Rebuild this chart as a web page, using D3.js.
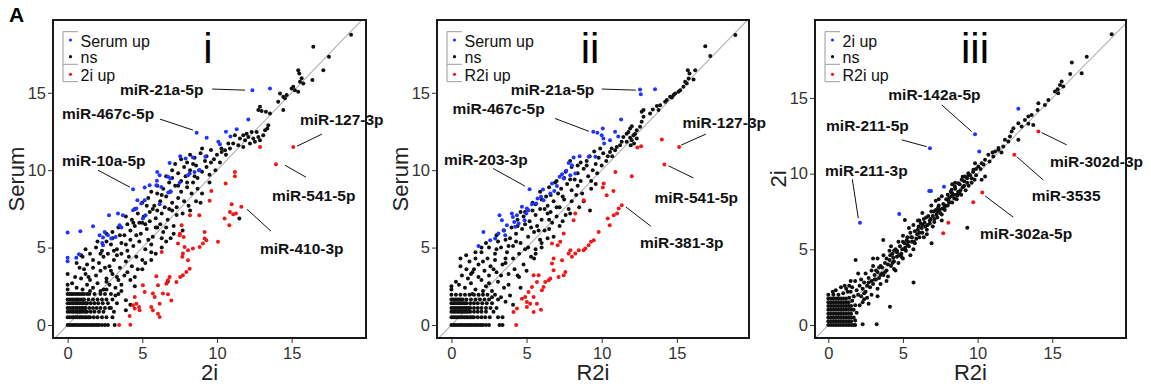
<!DOCTYPE html>
<html>
<head>
<meta charset="utf-8">
<script src="https://cdn.jsdelivr.net/npm/d3@7"></script>
<style>
  body { margin: 0; background: #fff; }
  svg { display: block; font-family: "Liberation Sans", Arial, sans-serif; }
</style>
</head>
<body>
<svg id="chart" width="1151" height="388"></svg>
<script>
// ---- data (log2 expression) ----
const ticks = [0, 5, 10, 15];

// panel i : 2i (x) vs Serum (y)
const upI = [[12.37,15.17],[13.55,15.28],[8.64,12.41],[9.31,12.09],[10.09,11.83],[10.2,11.68],[10.6,12.48],[10.9,12.17],[11.32,12.65],[12.1,13.27],
  [7.54,10.9],[7.9,10.75],[8.39,10.82],[9.22,10.86],[6.83,10.47],[6.0,9.89],[6.16,9.68],[6.72,9.57],[6.88,9.46],[5.98,9.31],[7.5,9.18],[8.17,9.78],[8.5,9.89],[8.84,10.0],[8.06,9.68],
  [4.38,8.77],[5.16,8.88],[5.49,9.03],[5.94,9.03],[6.27,8.92],[6.74,8.56],[6.88,8.64],[4.67,8.06],[5.16,8.06],[4.93,7.84],[4.38,7.41],[4.6,7.52],[6.16,7.8],
  [2.77,7.09],[3.37,7.2],[3.7,7.09],[5.04,6.88],[5.22,7.09],[1.7,6.38],[0.85,6.06],[0,5.97],[3.48,6.44],[2.14,5.8],[2.37,5.65],[2.7,5.8],[2.92,5.58],[3.21,5.69],
  [2.37,5.15],[2.32,5.3],[0,4.35],[0,4.12],[0.58,4.35],[0.76,4.57],[3.6,6.29],[2.48,6.0]];
const dnI = [[15.11,11.5],[12.88,11.5],[13.95,10.39],[11.2,9.89],[11.2,9.61],[10.98,7.8],[10.87,7.3],[11.09,7.15],[11.27,7.2],[10.83,6.45],
  [10.58,9.14],[9.62,8.66],[9.51,8.02],[11.63,7.63],[10.51,6.88],[9.17,6.01],[10.07,5.37],[9.29,5.47],[9.17,5.58],[9.06,5.26],[8.84,5.04],[8.39,4.94],[8.06,4.83],
  [7.83,5.04],[7.72,4.61],[7.68,4.4],[7.77,5.69],[7.5,5.8],[7.39,5.26],[8.06,4.18],[8.17,3.64],[7.95,3.43],[7.72,3.21],[7.54,3.1],[7.28,2.78],[6.83,3.1],[6.72,2.89],
  [6.61,2.67],[5.94,3.15],[6.05,2.56],[5.71,2.03],[5.83,1.81],[6.16,1.38],[6.38,2.03],[6.72,1.98],[6.94,1.59],[5.04,2.56],[5.16,2.13],[4.6,1.38],[4.38,1.27],[4.49,1.06],
  [4.78,1.16],[4.82,0.95],[5.6,1.16],[5.71,0.95],[6.05,0.73],[6.16,0.52],[4.15,0.58],[3.45,0],[4.2,0.02],[4.49,1.81],[8.19,7.09],[8.82,7.09],[7.63,6.44],[7.52,5.9],[6.3,4.72]];
const nsI = [[0,0],[0.15,0],[0.3,0],[0.45,0],[0.6,0],[0.75,0],[0.9,0],[1.05,0],[1.2,0],[1.35,0],[1.5,0],[1.65,0],[1.8,0],[1.95,0],[2.1,0],[2.3,0],[2.5,0],[2.7,0],[3.15,0],
  [0,0.5],[0,0.85],[0,1.1],[0,1.4],[0,1.65],[0,2.0],[0,2.3],[0,2.6],[0,3.3],
  [0.3,0.5],[0.55,0.5],[0.8,0.5],[1.0,0.5],[1.25,0.5],[1.5,0.5],[1.75,0.5],[2.0,0.5],[2.3,0.5],[2.6,0.5],[3.0,0.5],
  [0.15,0.5],[0.4,0.5],[0.65,0.5],[0.9,0.5],[1.15,0.5],[1.4,0.5],
  [0.3,0.85],[0.55,0.85],[0.8,0.85],[1.05,0.85],[1.3,0.85],[1.55,0.85],[1.8,0.85],[2.1,0.85],[2.4,0.85],[3.1,0.85],[3.9,0.95],
  [0.15,0.85],[0.4,0.85],[0.65,0.85],[0.9,0.85],[1.2,0.85],
  [0.3,1.1],[0.55,1.1],[0.8,1.1],[1.0,1.1],[1.2,1.1],[1.45,1.1],[1.7,1.1],[1.95,1.1],[2.2,1.1],[2.5,1.1],[2.8,1.1],
  [0.15,1.1],[0.4,1.1],[0.65,1.1],[0.9,1.1],[1.1,1.1],
  [0.3,1.4],[0.55,1.4],[0.8,1.4],[1.05,1.4],[1.3,1.4],[1.55,1.4],[1.8,1.4],[2.05,1.4],[2.35,1.4],[2.7,1.4],[3.3,1.4],
  [0.15,1.4],[0.4,1.4],[0.65,1.4],[0.95,1.4],[1.2,1.4],
  [0.3,1.65],[0.6,1.65],[0.85,1.65],[1.1,1.65],[1.4,1.65],[1.7,1.65],[2.0,1.65],[2.3,1.65],[2.6,1.65],[3.0,1.65],
  [0.15,1.65],[0.45,1.65],[0.7,1.65],[1.0,1.65],
  [0.25,2.0],[0.5,2.0],[0.8,2.0],[1.1,2.0],[1.45,2.0],[1.8,2.0],[2.2,2.0],[2.5,2.0],[2.9,2.0],[3.4,2.0],
  [0.15,2.0],[0.35,2.0],[0.65,2.0],[0.95,2.0],[1.3,2.0],
  [0.6,2.4],[1.0,2.3],[1.3,2.6],[1.7,2.4],[2.0,2.7],[2.4,2.3],[2.8,2.6],[3.2,2.4],[3.6,2.2],[3.9,1.6],[4.2,1.3],
  [0.5,3.1],[0.9,3.0],[1.2,3.3],[1.5,2.9],[1.9,3.2],[2.2,3.5],[2.6,3.0],[3.0,3.3],[3.4,2.9],[3.8,3.2],[4.2,2.9],[1.1,3.6],[2.5,3.7],
  [0.6,4.0],[1.0,4.4],[1.3,3.9],[1.7,4.2],[2.1,4.0],[2.4,4.4],[2.8,3.8],[3.1,4.2],[3.5,3.7],[3.9,4.1],[4.3,3.8],[4.6,4.4],[1.5,4.6],[2.7,4.6],[3.3,4.5],[0.9,4.5],
  [1.9,5.0],[2.3,4.8],[2.9,5.2],[3.3,4.9],[3.6,5.3],[4.0,4.8],[4.4,5.1],[4.8,5.4],[5.2,4.9],[5.6,5.2],[3.0,5.6],[4.2,5.5],[2.6,5.4],
  [3.0,6.0],[3.4,6.3],[3.8,5.8],[4.2,6.1],[4.5,6.4],[4.9,5.9],[5.3,6.2],[5.7,5.7],[6.0,6.3],[6.4,6.0],[4.0,6.5],[5.0,6.6],[2.6,5.9],[5.5,6.7],
  [3.9,7.0],[4.3,6.8],[4.7,7.2],[5.1,7.0],[5.5,7.3],[5.9,6.9],[6.3,7.2],[6.7,6.8],[7.0,7.4],[6.2,6.5],[4.8,6.6],[7.3,7.1],[5.7,7.5],
  [5.0,7.9],[5.4,8.2],[5.8,7.7],[6.2,8.0],[6.6,8.3],[7.0,7.9],[7.4,8.2],[7.8,8.0],[6.0,8.5],[6.9,8.6],[7.3,7.6],[8.1,7.7],
  [6.0,9.0],[6.4,8.8],[6.8,9.2],[7.2,9.0],[7.6,9.3],[8.0,8.9],[8.4,9.2],[8.7,8.8],[7.0,9.5],[7.9,9.6],[8.3,8.5],
  [7.0,10.0],[7.4,9.8],[7.8,10.2],[8.2,10.0],[8.6,10.3],[9.0,9.9],[9.3,10.2],[8.5,9.6],[9.6,10.5],[8.0,10.5],[7.2,10.4],
  [8.5,10.8],[8.9,11.1],[9.3,10.9],[9.6,11.3],[10.0,11.0],[9.0,11.4],[10.3,11.4],[9.8,10.7],[8.2,11.0],
  [7.7,6.1],[8.2,7.4],[6.9,5.6],[6.3,5.0],[5.6,4.2],[5.0,3.6],[4.5,3.1],[6.7,2.8],[11.5,6.88],
  [1.5,2.2],[2.2,2.2],[2.6,2.8],[3.3,3.1],[1.7,3.7],[2.9,3.5],[3.6,4.6],[4.1,4.4],[2.2,4.6],[3.1,4.8],[3.9,5.2],[4.6,5.8],[5.4,5.5],[3.5,5.8],
  [4.4,6.6],[5.2,6.5],[5.9,6.3],[6.6,6.3],[4.5,7.5],[5.3,7.7],[6.0,7.4],[6.5,7.6],[6.8,7.5],[5.6,8.6],[6.3,8.4],[7.6,8.6],[6.6,9.6],[7.4,9.0],
  [8.7,9.5],[8.0,9.2],[7.6,10.7],[8.4,10.4],[9.2,10.6],[8.8,10.0],[9.5,9.7],[7.1,6.4],[6.6,5.4],[5.6,4.7],[5.0,4.2],[4.7,3.6],[4.0,3.4],[3.6,2.6],
  [3.2,1.9],[2.9,1.1],[2.6,2.3],[4.5,2.5],[5.2,4.0],[5.9,4.6],[6.3,5.6],[7.1,5.9],[8.6,8.0],[7.7,7.2],[9.0,8.5],[9.5,9.2],[9.9,10.0],[10.2,10.5],
  [8.9,7.9],[10.6,11.0],[1.4,3.1],[0.8,3.7],[0.3,2.7],[2.0,5.4],[1.2,4.9],
  [10.76,11.72],[10.87,11.4],[10.54,11.29],[10.31,11.18],[11.09,11.72],[11.43,11.61],[11.76,11.5],[11.2,12.25],[11.54,12.04],[11.88,11.94],
  [12.21,11.72],[12.54,11.83],[12.88,11.94],[12.77,12.15],[12.43,12.04],[12.1,12.15],[11.76,12.25],[11.99,12.36],[12.32,12.47],[12.66,12.47],
  [13.1,12.25],[13.22,12.58],[13.37,12.69],[13.44,12.9],[13.55,13.66],[13.28,13.77],[12.77,13.88],[12.99,13.83],[12.88,14.09],[14.44,13.88],
  [14.1,14.42],[14.55,14.64],[14.67,14.85],[14.44,14.74],[14.22,14.96],[15.0,15.28],[15.44,15.06],[15.22,15.17],[15.11,15.39],[15.78,15.6],
  [15.56,15.71],[15.67,15.93],[15.51,16.25],[15.44,16.46],[16.39,15.82],[17.12,16.46],[17.5,17.33],[16.45,17.97],[18.98,18.75]];

// panel ii : R2i (x) vs Serum (y)
const upII = [[12.55,15.21],[12.6,14.91],[13.55,15.22],[11.29,13.28],[9.44,12.48],[9.71,12.41],[10.07,12.69],[10.0,12.26],[10.11,12.04],[10.16,11.72],[10.89,12.48],[11.1,12.17],[10.55,11.94],
  [8.13,10.82],[8.53,10.9],[9.13,10.86],[9.58,10.86],[7.8,10.47],[8.02,10.32],[7.64,9.96],[7.36,9.74],[7.2,9.57],[7.47,9.46],[7.91,9.68],[8.24,9.78],[6.69,9.14],[7.02,8.97],
  [6.58,8.49],[6.84,8.66],[6.09,8.75],[5.96,8.28],[6.13,8.06],[5.73,8.17],[5.64,7.84],[5.36,7.8],[5.13,7.41],[4.98,7.2],[5.2,8.77],[4.36,7.09],[4.18,6.66],[4.47,6.55],
  [4.02,7.2],[4.09,6.98],[4.24,6.34],[3.2,7.09],[3.36,6.77],[3.47,6.12],[3.13,5.91],[3.58,5.8],[2.91,5.58],[2.58,5.47],[2.13,6.01],[1.8,5.11],[3.69,6.44],[4.69,7.63],[4.87,6.77],[5.02,7.52]];
const dnII = [[14.0,11.98],[15.15,11.5],[14.17,10.37],[12.37,11.47],[12.62,11.55],[12.0,9.61],[10.78,8.66],[10.33,8.38],[11.33,7.74],
  [10.91,9.89],[10.13,9.14],[10.07,8.88],[8.8,8.06],[8.24,7.2],[8.13,6.77],[11.13,7.52],[11.02,7.2],[10.8,7.09],[10.4,6.88],[10.53,6.44],[9.8,6.01],[9.47,5.47],[9.29,5.37],
  [9.13,5.15],[8.91,4.94],[8.8,4.83],[8.47,4.83],[8.24,4.61],[8.02,4.4],[7.91,4.83],[7.8,4.61],[7.47,5.91],[7.24,5.37],[7.07,5.15],[6.69,5.26],[7.36,4.18],[7.58,3.43],
  [7.47,3.21],[7.13,3.1],[6.8,3.53],[6.8,4.29],[6.69,3.97],[6.58,3.0],[6.47,2.89],[6.24,2.78],[6.13,2.46],[6.02,2.24],[5.47,3.21],[5.8,3.21],[5.69,2.78],[5.36,2.46],
  [5.13,2.13],[4.91,1.81],[4.69,1.7],[5.47,1.81],[5.69,1.38],[5.24,1.38],[5.02,1.16],[5.02,1.49],[4.36,1.06],[4.13,0.84],[4.31,0],[5.47,0.84],[5.96,0.99]];
const nsII = [[0,0],[0.15,0],[0.3,0],[0.45,0],[0.6,0],[0.75,0],[0.9,0],[1.05,0],[1.2,0],[1.35,0],[1.5,0],[1.65,0],[1.8,0],[1.95,0],[2.1,0],[2.3,0],[2.5,0],[3.2,0],[3.4,0],
  [0,0.5],[0,0.85],[0,1.1],[0,1.4],[0,1.65],[0,1.95],[0,2.3],[0,2.5],
  [0.25,0.5],[0.5,0.5],[0.75,0.5],[1.0,0.5],[1.25,0.5],[1.5,0.5],[1.75,0.5],[2.0,0.5],[2.25,0.5],[2.55,0.5],[3.1,0.5],[3.4,0.5],
  [0.12,0.5],[0.38,0.5],[0.62,0.5],[0.88,0.5],[1.12,0.5],[1.38,0.5],
  [0.25,0.85],[0.5,0.85],[0.75,0.85],[1.0,0.85],[1.25,0.85],[1.5,0.85],[1.75,0.85],[2.0,0.85],[2.3,0.85],[2.8,0.85],
  [0.12,0.85],[0.38,0.85],[0.62,0.85],[0.88,0.85],[1.12,0.85],
  [0.25,1.1],[0.5,1.1],[0.75,1.1],[1.0,1.1],[1.25,1.1],[1.5,1.1],[1.75,1.1],[2.0,1.1],[2.3,1.1],[2.6,1.1],
  [0.12,1.1],[0.38,1.1],[0.62,1.1],[0.88,1.1],[1.12,1.1],
  [0.25,1.4],[0.5,1.4],[0.75,1.4],[1.0,1.4],[1.25,1.4],[1.5,1.4],[1.75,1.4],[2.05,1.4],[2.35,1.4],[2.7,1.4],
  [0.12,1.4],[0.38,1.4],[0.62,1.4],[0.88,1.4],
  [0.25,1.65],[0.5,1.65],[0.75,1.65],[1.0,1.65],[1.3,1.65],[1.6,1.65],[1.9,1.65],[2.2,1.65],[2.5,1.65],[3.1,1.65],
  [0.12,1.65],[0.38,1.65],[0.62,1.65],
  [0.3,1.95],[0.6,1.95],[0.9,1.95],[1.2,1.95],[1.5,1.95],[1.8,1.95],[2.1,1.95],[2.4,1.95],[2.9,1.95],
  [0.5,2.6],[0.9,2.4],[1.3,2.7],[1.6,2.3],[2.0,2.9],[2.3,2.5],[2.7,2.2],[3.1,2.8],[3.5,2.4],[3.9,1.9],[4.1,1.3],[3.6,1.5],[1.1,3.0],[1.8,3.1],[2.5,3.2],[0.7,3.2],
  [1.0,3.6],[1.4,3.4],[1.8,3.9],[2.2,3.5],[2.6,3.8],[3.0,3.4],[3.4,3.9],[3.8,3.3],[4.2,3.6],[4.5,3.1],[2.9,4.2],[1.6,4.3],[0.98,4.5],[1.2,4.1],[2.4,4.3],[3.6,4.3],[4.8,3.9],
  [2.0,4.7],[2.5,5.0],[2.9,4.6],[3.3,5.0],[3.7,4.7],[4.1,5.1],[4.5,4.6],[4.9,4.9],[5.3,4.4],[3.1,5.4],[4.3,5.4],[5.6,4.9],[2.3,5.3],
  [3.0,5.8],[3.5,6.1],[3.9,5.6],[4.3,5.9],[4.7,6.2],[5.1,5.7],[5.5,6.0],[5.9,5.5],[6.2,6.1],[4.0,6.3],[4.9,6.5],[5.7,6.4],[6.4,5.6],
  [4.4,6.8],[4.8,7.0],[5.2,6.7],[5.6,7.1],[6.0,6.8],[6.4,7.2],[6.7,6.6],[7.0,7.0],[5.4,7.4],[6.2,7.5],[7.2,6.4],[4.6,7.3],
  [5.6,7.8],[6.0,8.1],[6.4,7.7],[6.8,8.0],[7.2,7.6],[7.5,8.1],[7.8,7.5],[6.6,8.4],[7.1,8.5],[8.0,8.0],
  [6.5,8.9],[6.9,9.2],[7.3,8.8],[7.7,9.1],[8.0,8.7],[8.4,9.0],[8.7,8.5],[7.5,9.5],[8.2,9.4],[9.22,7.4],
  [7.6,9.9],[8.0,10.2],[8.4,9.8],[8.8,10.1],[9.1,9.6],[9.4,10.0],[8.6,10.5],[9.0,10.6],[9.6,10.4],
  [9.2,10.9],[9.5,11.2],[9.8,10.8],[10.1,11.1],[10.3,10.6],[9.9,11.4],
  [1.4,2.0],[2.1,2.2],[2.5,2.7],[3.3,3.2],[1.5,3.6],[2.8,3.6],[3.6,4.0],[4.1,4.3],[2.1,4.1],[3.0,4.9],[3.8,5.1],[4.6,5.3],[5.1,5.0],[3.6,5.5],
  [4.4,6.4],[5.3,6.3],[5.8,6.1],[6.5,6.2],[4.9,7.3],[5.4,7.9],[5.9,7.5],[6.6,7.3],[7.0,7.6],[5.9,8.6],[6.3,8.3],[7.4,8.3],[7.0,9.3],[7.9,9.4],
  [8.6,9.3],[8.3,8.4],[7.9,10.6],[8.4,10.3],[9.0,10.3],[9.3,9.3],[9.7,9.8],[7.4,6.7],[6.8,5.7],[6.0,5.0],[5.5,4.3],[5.0,3.5],[4.4,3.2],[3.8,2.6],
  [3.3,1.8],[3.0,1.1],[2.7,1.8],[4.6,2.4],[5.6,4.6],[6.0,5.3],[6.5,6.8],[7.6,7.1],[8.5,7.6],[7.9,7.2],[9.3,8.8],[9.6,9.1],[10.0,10.3],[10.4,10.9],
  [8.8,8.0],[10.7,10.9],[1.3,3.3],[0.6,3.8],[0.3,2.8],[2.0,5.0],[1.6,4.7],[0.6,4.3],
  [10.55,11.18],[10.66,11.4],[10.89,11.29],[11.0,11.5],[11.22,11.61],[11.33,11.83],[11.93,11.61],[12.15,11.72],[12.33,12.04],[11.66,11.83],
  [11.44,12.15],[11.66,12.36],[11.89,12.1],[12.0,11.94],[12.11,12.25],[11.78,12.47],[11.89,12.69],[12.0,12.84],[12.22,12.36],[12.33,12.58],
  [12.55,12.8],[12.66,13.12],[12.78,13.45],[12.66,13.77],[12.78,13.88],[13.22,13.66],[13.4,13.92],[13.78,13.88],[13.67,14.14],[13.89,14.2],
  [14.22,14.42],[14.33,14.53],[14.55,14.74],[14.67,14.7],[14.78,14.85],[14.89,14.96],[15.11,15.06],[15.22,15.17],[15.44,15.39],[15.66,15.6],
  [15.55,15.71],[15.78,15.92],[16.11,15.86],[16.22,16.46],[15.84,16.25],[15.73,16.46],[17.22,17.37],[16.89,18.01],[18.89,18.73]];

// panel iii : R2i (x) vs 2i (y)
const upIII = [[2.12,6.76],[4.75,7.33],[6.76,8.85],[6.88,8.85],[7.75,9.14],[10.11,11.46],[9.83,12.6],[6.81,11.68],[12.73,14.28]];
const dnIII = [[12.46,11.24],[14.07,12.78],[10.31,8.75],[9.71,8.11],[8.04,6.76],[7.7,6.06]];
const nsIII = [[0,0],[0.17,0],[0.34,0],[0.51,0],[0.68,0],[0.85,0],[1.02,0],[1.19,0],[1.36,0],[1.53,0],[1.7,0],[1.8,0],[2.3,0.05],[3.24,0.05],
  [0,0.25],[0.17,0.25],[0.34,0.25],[0.51,0.25],[0.68,0.25],[0.85,0.25],[1.02,0.25],[1.19,0.25],[1.36,0.25],[1.53,0.25],[1.8,0.3],
  [0,0.5],[0.17,0.5],[0.34,0.5],[0.51,0.5],[0.68,0.5],[0.85,0.5],[1.02,0.5],[1.19,0.5],[1.36,0.5],[1.53,0.5],[1.7,0.5],
  [0,0.75],[0.17,0.75],[0.34,0.75],[0.51,0.75],[0.68,0.75],[0.85,0.75],[1.02,0.75],[1.19,0.75],[1.36,0.75],[1.53,0.75],[1.9,0.8],
  [0,1.0],[0.17,1.0],[0.34,1.0],[0.51,1.0],[0.68,1.0],[0.85,1.0],[1.02,1.0],[1.19,1.0],[1.36,1.0],[1.53,1.0],[1.7,1.0],
  [0,1.25],[0.17,1.25],[0.34,1.25],[0.51,1.25],[0.68,1.25],[0.85,1.25],[1.02,1.25],[1.19,1.25],[1.36,1.25],[1.53,1.25],[1.8,1.3],
  [0,1.5],[0.17,1.5],[0.34,1.5],[0.51,1.5],[0.68,1.5],[0.85,1.5],[1.02,1.5],[1.19,1.5],[1.36,1.5],[1.6,1.6],
  [0,1.75],[0.17,1.75],[0.34,1.75],[0.51,1.75],[0.68,1.75],[0.85,1.75],[1.02,1.75],[1.19,1.75],[1.4,1.8],
  [0,2.0],[0.34,2.0],[0.68,2.0],[1.0,2.1],[1.3,2.2],[0.5,2.3],[0.85,2.5],
  [1.9,2.3],[2.2,1.9],[2.1,2.6],[2.5,2.2],[2.4,2.8],[2.8,2.5],[2.7,3.1],[3.0,2.7],[1.6,2.5],[1.8,2.9],[2.3,1.5],[2.6,1.8],[3.1,3.3],[2.0,3.4],[1.83,4.3],[1.5,2.2],[2.9,2.0],[3.3,2.4],
  [1.7,1.9],[2.0,2.0],[2.3,2.4],[2.6,2.6],[2.2,3.0],[2.9,2.9],[1.4,2.6],[2.4,1.7],
  [3.2,3.6],[3.4,3.1],[3.5,3.9],[3.6,3.4],[3.8,4.1],[3.9,3.6],[3.3,4.4],[4.0,3.2],[3.7,4.6],[3.0,3.9],[3.68,5.62],[4.13,1.21],[3.9,2.9],
  [3.1,3.0],[3.3,3.5],[3.6,3.8],[3.8,3.5],[3.5,3.3],[3.9,4.4],
  [4.1,4.3],[4.2,3.9],[4.3,4.7],[4.4,4.2],[4.5,5.0],[4.6,4.5],[4.7,4.1],[4.8,5.2],[4.9,4.7],[4.2,5.2],[4.5,3.6],[5.0,4.4],
  [4.15,4.6],[4.35,4.45],[4.6,4.8],[4.75,4.6],[4.95,5.0],[4.4,4.9],
  [5.1,5.4],[5.2,4.9],[5.3,5.8],[5.4,5.2],[5.5,6.1],[5.6,5.5],[5.7,5.0],[5.8,6.2],[5.9,5.7],[5.0,5.9],[5.13,6.94],[5.71,2.8],[5.4,6.4],
  [5.15,5.1],[5.35,5.5],[5.55,5.8],[5.75,5.5],[5.95,6.0],[5.25,5.6],
  [6.0,6.3],[6.1,5.8],[6.2,6.7],[6.3,6.1],[6.4,7.0],[6.5,6.5],[6.6,6.0],[6.7,7.2],[6.8,6.7],[6.9,7.5],[6.92,5.4],[6.3,7.4],[6.1,6.9],
  [6.05,6.5],[6.25,6.4],[6.45,6.75],[6.65,6.6],[6.85,7.0],[6.55,7.1],
  [7.0,7.2],[7.1,6.8],[7.2,7.6],[7.3,7.1],[7.4,7.9],[7.5,7.4],[7.6,6.9],[7.7,8.0],[7.8,7.6],[7.9,8.3],[7.2,8.2],[7.6,8.5],
  [7.05,7.5],[7.25,7.3],[7.45,7.65],[7.65,7.7],[7.85,7.9],[7.35,7.75],
  [8.0,7.9],[8.1,8.4],[8.2,8.8],[8.3,8.1],[8.4,8.6],[8.5,9.0],[8.6,8.3],[8.7,8.8],[8.8,9.3],[8.9,8.6],[8.3,9.3],
  [8.05,8.2],[8.25,8.5],[8.45,8.35],[8.65,8.55],[8.85,8.9],
  [9.0,9.1],[9.1,9.5],[9.2,8.9],[9.3,9.7],[9.4,9.2],[9.5,9.9],[9.6,9.4],[9.7,10.1],[9.8,9.6],[9.9,10.3],[9.31,6.43],[9.0,9.8],
  [2.4,2.1],[2.7,2.8],[3.2,3.0],[3.4,3.8],[3.7,3.3],[4.0,4.0],[4.3,4.1],[4.6,4.9],[4.9,4.5],[5.1,5.0],[5.3,5.3],[5.6,5.8],[5.8,5.4],[6.1,6.1],
  [6.3,6.6],[6.6,6.3],[6.8,6.9],[7.1,7.0],[7.3,7.5],[7.6,7.3],[7.8,7.8],[8.1,8.1],[8.3,8.7],[8.6,8.6],[8.8,8.7],[9.1,9.2],[9.3,9.4],[9.6,9.7],
  [9.9,9.9],[10.2,10.3],[10.4,10.6],[10.8,10.8],[11.0,11.4],[11.4,11.7],[11.6,11.4],[3.5,2.7],[4.4,3.7],[5.5,4.6],[6.4,5.8],[7.0,6.5],[2.9,3.6],
  [4.1,4.9],[5.0,5.5],[6.0,6.9],[7.4,8.3],[8.0,8.6],[1.2,2.4],[1.5,2.9],[2.5,3.4],[3.0,4.4],[4.7,5.5],[5.7,6.6],[6.9,7.9],[8.5,9.4],[9.4,9.9],
  [2.1,1.3],[2.7,1.4],[3.3,1.9],[0.3,2.2],[1.1,2.6],
  [8.26,8.93],[8.48,9.15],[8.71,9.37],[8.93,9.59],[9.15,9.81],[9.38,10.03],[9.72,10.25],[9.83,10.69],[10.05,10.47],[10.27,10.69],
  [10.5,10.91],[10.72,11.24],[11.05,11.13],[11.17,11.46],[11.39,11.57],[10.5,9.81],[10.27,9.59],[11.72,11.79],[11.83,12.23],[12.06,12.12],
  [12.17,12.45],[12.28,12.78],[12.4,13.0],[12.73,12.23],[12.73,13.33],[12.95,13.11],[13.4,13.29],[13.73,13.22],[13.17,13.55],[13.4,13.77],
  [13.62,13.88],[14.02,14.21],[14.07,14.65],[14.51,14.54],[14.74,14.87],[15.4,15.31],[15.18,15.42],[15.74,15.75],[15.36,15.57],[15.52,15.86],
  [15.63,16.08],[16.97,16.63],[16.2,16.59],[16.31,17.34],[17.31,17.73],[18.98,19.21]];

// annotations: label, text left/baseline, leader line start -> end (data units)
const notesI = [
  ['miR-21a-5p', 3.5, 14.88, 9.68, 15.24, 11.88, 15.17],
  ['miR-467c-5p', -0.38, 13.33, 6.18, 13.3, 8.39, 12.59],
  ['miR-127-3p', 15.56, 12.95, 17.03, 12.33, 15.36, 11.55],
  ['miR-10a-5p', -0.38, 10.26, 2.03, 10.0, 4.17, 8.9],
  ['miR-541-5p', 13.68, 8.0, 15.96, 9.55, 14.55, 10.32],
  ['miR-410-3p', 12.88, 4.57, 13.62, 6.06, 12.01, 7.48]];
const notesII = [
  ['miR-21a-5p', 3.95, 14.88, 10.0, 15.24, 12.27, 15.17],
  ['miR-467c-5p', 0.07, 13.65, 6.89, 13.34, 9.15, 12.51],
  ['miR-127-3p', 15.37, 12.75, 16.93, 12.33, 15.29, 11.62],
  ['miR-203-3p', -0.49, 10.36, 2.77, 10.11, 4.89, 8.97],
  ['miR-541-5p', 13.51, 7.9, 16.1, 9.5, 14.44, 10.28],
  ['miR-381-3p', 12.55, 4.99, 13.27, 6.38, 11.6, 7.63]];
const notesIII = [
  ['miR-142a-5p', 4.02, 14.85, 7.6, 14.54, 9.6, 12.78],
  ['miR-211-5p', -0.15, 12.79, 4.92, 12.23, 6.59, 11.78],
  ['miR-211-3p', -0.22, 9.85, 1.61, 9.63, 2.01, 7.05],
  ['miR-302d-3p', 14.85, 10.44, 15.97, 11.9, 14.29, 12.71],
  ['miR-3535', 13.62, 8.16, 14.4, 9.58, 12.62, 11.12],
  ['miR-302a-5p', 10.16, 5.65, 12.39, 7.12, 10.5, 8.53]];

const legendI = ['Serum up', 'ns', '2i up'];
const legendII = ['Serum up', 'ns', 'R2i up'];
const legendIII = ['2i up', 'ns', 'R2i up'];

// ---- layout ----
const BLUE = '#1f35ff', RED = '#f01818', BLACK = '#111';
const panels = [
  { tag: 'i', left: 53, right: 366, top: 20, bottom: 338, xDom: [-0.98, 19.98], yDom: [-0.84, 19.7],
    xTitle: '2i', yTitle: 'Serum', legend: legendI, up: upI, ns: nsI, dn: dnI, notes: notesI, tagX: 208 },
  { tag: 'ii', left: 437, right: 749, top: 20, bottom: 338, xDom: [-0.96, 19.8], yDom: [-0.84, 19.7],
    xTitle: 'R2i', yTitle: 'Serum', legend: legendII, up: upII, ns: nsII, dn: dnII, notes: notesII, tagX: 590 },
  { tag: 'iii', left: 815, right: 1126, top: 20, bottom: 338, xDom: [-0.89, 19.94], yDom: [-0.86, 20.15],
    xTitle: 'R2i', yTitle: '2i', legend: legendIII, up: upIII, ns: nsIII, dn: dnIII, notes: notesIII, tagX: 975 }
];

const svg = d3.select('#chart');

svg.append('text')
  .attr('x', 9).attr('y', 22)
  .attr('font-size', 21).attr('font-weight', 'bold')
  .text('A');

panels.forEach((p, k) => {
  const x = d3.scaleLinear().domain(p.xDom).range([p.left, p.right]);
  const y = d3.scaleLinear().domain(p.yDom).range([p.bottom, p.top]);
  const g = svg.append('g');

  svg.append('clipPath').attr('id', 'clip' + k)
    .append('rect')
    .attr('x', p.left).attr('y', p.top)
    .attr('width', p.right - p.left).attr('height', p.bottom - p.top);

  // identity line
  g.append('line')
    .attr('clip-path', `url(#clip${k})`)
    .attr('x1', x(-1)).attr('y1', y(-1))
    .attr('x2', x(21)).attr('y2', y(21))
    .attr('stroke', '#b0b0b0').attr('stroke-width', 1.1);

  // points: ns first, then the called ones on top
  const dots = g.append('g').attr('clip-path', `url(#clip${k})`);
  [[p.ns, BLACK], [p.up, BLUE], [p.dn, RED]].forEach(([pts, col]) => {
    dots.append('g').selectAll('circle')
      .data(pts)
      .enter()
      .append('circle')
      .attr('cx', d => x(d[0]))
      .attr('cy', d => y(d[1]))
      .attr('r', 2)
      .attr('fill', col);
  });

  // leader lines + labels
  const notes = g.append('g');
  notes.selectAll('line')
    .data(p.notes)
    .enter()
    .append('line')
    .attr('x1', d => x(d[3])).attr('y1', d => y(d[4]))
    .attr('x2', d => x(d[5])).attr('y2', d => y(d[6]))
    .attr('stroke', '#111').attr('stroke-width', 1);
  notes.selectAll('text')
    .data(p.notes)
    .enter()
    .append('text')
    .attr('x', d => x(d[1])).attr('y', d => y(d[2]))
    .attr('font-size', 15.5).attr('font-weight', 'bold').attr('fill', '#111')
    .text(d => d[0]);

  // axes
  const xAxis = g.append('g')
    .attr('transform', `translate(0,${p.bottom})`)
    .call(d3.axisBottom(x).tickValues(ticks).tickSize(5).tickPadding(4));
  const yAxis = g.append('g')
    .attr('transform', `translate(${p.left},0)`)
    .call(d3.axisLeft(y).tickValues(ticks).tickSize(5).tickPadding(2));
  [xAxis, yAxis].forEach(a => {
    a.select('.domain').remove();
    a.selectAll('line').attr('stroke', '#333');
    a.selectAll('text').attr('font-size', 16.5).attr('fill', '#333')
      .attr('font-family', '"Liberation Sans", Arial, sans-serif');
  });

  // frame
  g.append('rect')
    .attr('x', p.left).attr('y', p.top)
    .attr('width', p.right - p.left).attr('height', p.bottom - p.top)
    .attr('fill', 'none').attr('stroke', '#1a1a1a').attr('stroke-width', 2);

  // titles
  g.append('text')
    .attr('x', (p.left + p.right) / 2).attr('y', 380)
    .attr('text-anchor', 'middle').attr('font-size', 22).attr('fill', '#222')
    .text(p.xTitle);
  g.append('text')
    .attr('transform', `translate(${p.left - 29},${(p.top + p.bottom) / 2}) rotate(-90)`)
    .attr('text-anchor', 'middle').attr('font-size', 22).attr('fill', '#222')
    .text(p.yTitle);
  g.append('text')
    .attr('x', p.tagX).attr('y', 63)
    .attr('text-anchor', 'middle').attr('font-size', 42)
    .text(p.tag);

  // legend
  const lg = g.append('g').attr('transform', `translate(${p.left},0)`);
  const lx = 10, rows = [40, 56.7, 74.3];
  lg.append('path')
    .attr('d', `M${lx + 15},31.7H${lx}V81.7H${lx + 15}M${lx},64.3H${lx + 15}`)
    .attr('fill', 'none').attr('stroke', '#9a9a9a').attr('stroke-width', 1);
  lg.selectAll('circle')
    .data(p.legend)
    .enter()
    .append('circle')
    .attr('cx', 17.5).attr('cy', (d, i) => rows[i])
    .attr('r', 1.6)
    .attr('fill', (d, i) => [BLUE, BLACK, RED][i]);
  lg.selectAll('text')
    .data(p.legend)
    .enter()
    .append('text')
    .attr('x', 27.5).attr('y', (d, i) => rows[i] + 6.5)
    .attr('font-size', 16).attr('fill', '#111')
    .text(d => d);
});
</script>
</body>
</html>
